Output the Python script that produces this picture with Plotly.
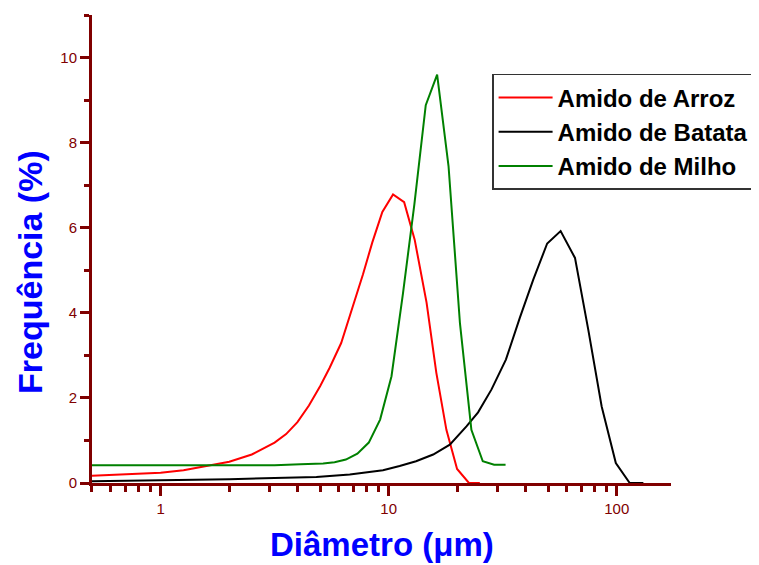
import plotly.graph_objects as go

# Amido de Arroz (red)
arroz_x = [0.5, 0.63, 0.79, 1.0, 1.26, 1.58, 2.0, 2.51, 3.16, 3.55, 3.98, 4.47, 5.01,
           5.51, 6.19, 6.97, 7.71, 8.47, 9.38, 10.45, 11.69, 13.0, 14.66, 16.18, 17.91,
           19.95, 22.49, 25.1]
arroz_y = [0.17, 0.19, 0.21, 0.24, 0.30, 0.39, 0.50, 0.67, 0.95, 1.15, 1.43, 1.82, 2.28,
           2.71, 3.29, 4.16, 4.90, 5.65, 6.37, 6.78, 6.60, 5.72, 4.24, 2.59, 1.25,
           0.33, 0.0, 0.0]

# Amido de Batata (black)
batata_x = [0.5, 1.0, 2.0, 3.16, 4.82, 6.75, 9.44, 11.17, 13.18, 15.67, 18.54, 21.93,
            24.66, 28.25, 32.66, 37.58, 43.05, 49.55, 56.75, 65.61, 74.99, 85.9, 99.1,
            114.0, 130.9]
batata_y = [0.04, 0.06, 0.09, 0.12, 0.14, 0.20, 0.30, 0.40, 0.51, 0.67, 0.90, 1.33,
            1.66, 2.20, 2.90, 3.88, 4.78, 5.63, 5.92, 5.29, 3.61, 1.80, 0.47,
            0.0, 0.0]

# Amido de Milho (green)
milho_x = [0.5, 1.0, 2.0, 3.16, 4.1, 5.16, 5.79, 6.49, 7.29, 8.18, 9.17, 10.29, 11.55,
           12.96, 14.54, 16.31, 18.30, 20.54, 23.05, 25.86, 29.0, 32.55]
milho_y = [0.42, 0.42, 0.42, 0.42, 0.44, 0.46, 0.49, 0.55, 0.69, 0.95, 1.49, 2.51, 4.45,
           6.55, 8.88, 9.60, 7.45, 3.75, 1.25, 0.51, 0.43, 0.43]

series_names = ["Amido de Arroz", "Amido de Batata", "Amido de Milho"]
series_colors = ["#FF0000", "#000000", "#008000"]

x_tick_vals = [1, 10, 100]
x_tick_text = ["1", "10", "100"]
x_minor_vals = [0.5, 0.6, 0.7, 0.8, 0.9, 2, 3, 4, 5, 6, 7, 8, 9,
                20, 30, 40, 50, 60, 70, 80, 90]
y_tick_vals = [0, 2, 4, 6, 8, 10]
y_minor_vals = [1, 3, 5, 7, 9, 11]

AX = "#800000"
FONT = "Liberation Sans, Arial, sans-serif"

fig = go.Figure()
for xs, ys, name, col in zip([arroz_x, batata_x, milho_x], [arroz_y, batata_y, milho_y],
                             series_names, series_colors):
    fig.add_trace(go.Scatter(x=xs, y=ys, mode="lines", name=name,
                             line=dict(color=col, width=2)))

# the page body adds an 8px margin at top/left, so the figure fills the rest
fig.update_layout(
    width=751, height=557,
    margin=dict(l=84, r=88, t=7, b=82, autoexpand=False),
    paper_bgcolor="white", plot_bgcolor="white",
    font=dict(family=FONT),
    showlegend=True,
    legend=dict(
        x=0.691, y=0.874, xanchor="left", yanchor="top",
        bgcolor="white", bordercolor="#333333", borderwidth=1.5,
        font=dict(family=FONT, size=24, color="black", weight="bold"),
        itemwidth=54, tracegroupgap=0,
    ),
    xaxis=dict(
        type="log", range=[-0.301, 2.238], automargin=False,
        showgrid=False, zeroline=False,
        showline=True, linecolor=AX, linewidth=3,
        ticks="outside", tickvals=x_tick_vals, ticktext=x_tick_text,
        ticklen=10, tickwidth=3, tickcolor=AX,
        tickfont=dict(family=FONT, size=15, color=AX),
        minor=dict(tickvals=x_minor_vals, ticks="outside", ticklen=6,
                   tickwidth=3, tickcolor=AX),
    ),
    yaxis=dict(
        range=[0, 11], automargin=False,
        showgrid=False, zeroline=False,
        showline=True, linecolor=AX, linewidth=3,
        ticks="outside", tickvals=y_tick_vals,
        ticklen=9, tickwidth=3, tickcolor=AX,
        tickfont=dict(family=FONT, size=15, color=AX),
        minor=dict(tickvals=y_minor_vals, ticks="outside", ticklen=5,
                   tickwidth=3, tickcolor=AX),
    ),
)

fig.add_annotation(text="Diâmetro (μm)", xref="paper", yref="paper",
                   x=0.501, y=-0.132, xanchor="center", yanchor="middle",
                   showarrow=False,
                   font=dict(family=FONT, size=33, color="#0000FF", weight="bold"))
fig.add_annotation(text="Frequência (%)", xref="paper", yref="paper",
                   x=-0.107, y=0.451, xanchor="center", yanchor="middle",
                   textangle=-90, showarrow=False,
                   font=dict(family=FONT, size=34, color="#0000FF", weight="bold"))

fig.write_html("out.html")
